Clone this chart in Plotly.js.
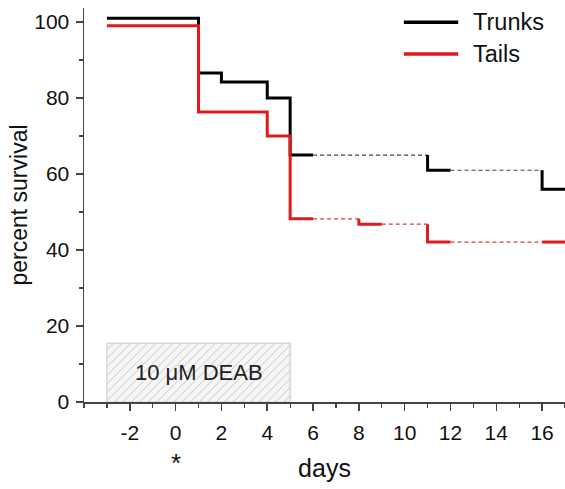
<!DOCTYPE html>
<html><head><meta charset="utf-8">
<script src="https://cdn.plot.ly/plotly-3.0.1.min.js"></script>
<style>html,body{margin:0;padding:0;background:#fff}#chart{width:565px;height:489px}</style>
</head><body><div id="chart"></div>
<script>
// Trunks survival (step points) and whether the interval starting at each point is dashed
var trunkDays = [-3, 1, 2, 4, 5, 6, 11, 12, 16, 17];
var trunkSurv = [101, 86.6, 84.2, 80, 65, 65, 61, 61, 56, 56];
var trunkDashed = [false, false, false, false, false, true, false, true, false];

// Tails
var tailDays = [-3, 1, 4, 5, 6, 8, 9, 11, 12, 16, 17];
var tailSurv = [99, 76.3, 70, 48.2, 48.2, 46.8, 46.8, 42.1, 42.1, 42.1, 42.1];
var tailDashed = [false, false, false, false, true, false, true, false, true, false];

// Treatment window
var deabStart = -3, deabEnd = 5, deabHeight = 15.5;
var deabLabel = '10 \u03bcM DEAB';

var seriesNames = ['Trunks', 'Tails'];
var seriesColors = ['#000000', '#e0191b'];

var xTicks = [-2, 0, 2, 4, 6, 8, 10, 12, 14, 16];
var yTicks = [0, 20, 40, 60, 80, 100];

function buildSteps(days, surv, dashed) {
  var sx = [], sy = [], dx = [], dy = [];
  var prevSolid = false;
  for (var i = 0; i < days.length - 1; i++) {
    if (!dashed[i]) {
      if (!prevSolid) {
        if (sx.length) { sx.push(null); sy.push(null); }
        if (i > 0) { sx.push(days[i]); sy.push(surv[i - 1]); }
      }
      sx.push(days[i]); sy.push(surv[i]);
      sx.push(days[i + 1]); sy.push(surv[i]);
      prevSolid = true;
    } else {
      dx.push(days[i], days[i + 1], null); dy.push(surv[i], surv[i], null);
      prevSolid = false;
    }
  }
  return {sx: sx, sy: sy, dx: dx, dy: dy};
}
var T = buildSteps(trunkDays, trunkSurv, trunkDashed);
var L = buildSteps(tailDays, tailSurv, tailDashed);

var traces = [
  {x: [deabStart, deabEnd, deabEnd, deabStart, deabStart], y: [0, 0, deabHeight, deabHeight, 0],
   type: 'scatter', mode: 'lines', fill: 'toself', fillcolor: '#f3f3f3',
   fillpattern: {shape: '/', size: 6, solidity: 0.15, fgcolor: '#c0c0c0', bgcolor: '#f6f6f6'},
   line: {color: '#cfcfcf', width: 1.2}, showlegend: false, hoverinfo: 'skip'},
  {x: T.dx, y: T.dy, type: 'scatter', mode: 'lines', line: {color: '#444', width: 1.2, dash: '4px,3px'}, showlegend: false, connectgaps: false},
  {x: L.dx, y: L.dy, type: 'scatter', mode: 'lines', line: {color: '#c74444', width: 1.2, dash: '4px,3px'}, showlegend: false, connectgaps: false},
  {x: T.sx, y: T.sy, type: 'scatter', mode: 'lines', name: seriesNames[0], line: {color: seriesColors[0], width: 3}, connectgaps: false, showlegend: false},
  {x: L.sx, y: L.sy, type: 'scatter', mode: 'lines', name: seriesNames[1], line: {color: seriesColors[1], width: 3}, connectgaps: false, showlegend: false}
];

var fam = 'Liberation Sans, Arial, sans-serif';
var legendY = [0.964, 0.883];
var shapes = [], annotations = [];
for (var k = 0; k < seriesNames.length; k++) {
  shapes.push({type: 'line', xref: 'paper', yref: 'paper', x0: 0.665, x1: 0.778, y0: legendY[k], y1: legendY[k],
               line: {color: seriesColors[k], width: 3.5}});
  annotations.push({xref: 'paper', yref: 'paper', x: 0.805, y: legendY[k], xanchor: 'left', yanchor: 'middle',
                    text: seriesNames[k], showarrow: false, font: {family: fam, size: 23.5, color: '#111'}});
}
annotations.push({x: (deabStart + deabEnd) / 2, y: deabHeight / 2, xref: 'x', yref: 'y', text: deabLabel, showarrow: false,
                  font: {family: fam, size: 22, color: '#222'}});
annotations.push({x: 0, y: -0.112, xref: 'x', yref: 'paper', yanchor: 'top', text: '*', showarrow: false,
                  font: {family: fam, size: 26, color: '#111'}});

var layout = {
  width: 565, height: 489,
  margin: {l: 84, r: 0, t: 8, b: 87},
  paper_bgcolor: '#fff', plot_bgcolor: '#fff',
  font: {family: fam, size: 21, color: '#111'},
  showlegend: false,
  xaxis: {range: [-4, 17], tickvals: xTicks, ticktext: xTicks.map(String), ticks: 'outside', ticklen: 7, tickwidth: 1.5,
          tickcolor: '#444', showline: true, linecolor: '#444', linewidth: 1.5, zeroline: false, showgrid: false,
          minor: {dtick: 1, tick0: 1, ticks: 'outside', ticklen: 4, tickcolor: '#444', tickwidth: 1.2},
          ticklabelstandoff: 4,
          title: {text: 'days', font: {size: 25}, standoff: 17}, tickfont: {size: 21}},
  yaxis: {range: [0, 103.7], tickvals: yTicks, ticks: 'outside', ticklen: 7, tickwidth: 1.5, tickcolor: '#444',
          showline: true, linecolor: '#444', linewidth: 1.5, zeroline: false, showgrid: false,
          minor: {dtick: 10, tick0: 10, ticks: 'outside', ticklen: 4, tickcolor: '#444', tickwidth: 1.2},
          ticklabelstandoff: 2,
          title: {text: 'percent survival', font: {size: 23}, standoff: 0}, tickfont: {size: 21}},
  shapes: shapes,
  annotations: annotations
};
Plotly.newPlot('chart', traces, layout, {displayModeBar: false, staticPlot: true});
</script></body></html>
